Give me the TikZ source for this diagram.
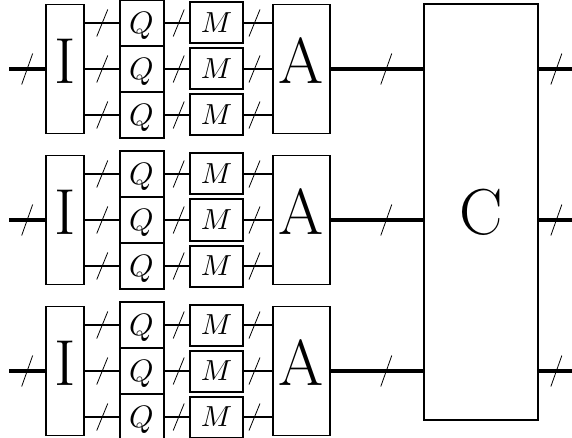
\documentclass[tikz,border=0pt]{standalone}
\usepackage{graphicx}
\usetikzlibrary{decorations.markings}
\begin{document}
\begin{tikzpicture}[x=1pt,y=-1pt,
  bigbox/.style={draw,line width=1.3pt,inner sep=0pt,minimum height=129pt,font=\fontsize{65}{65}\selectfont,text depth=16pt},
  cbox/.style={draw,line width=1.3pt,inner sep=0pt,minimum width=114pt,minimum height=416pt,font=\fontsize{65}{65}\selectfont},
  qbox/.style={draw,line width=2pt,inner sep=0pt,minimum width=44pt,minimum height=46pt,text depth=0pt},
  mbox/.style={draw,line width=2pt,inner sep=0pt,minimum width=53pt,minimum height=41pt,text depth=0pt},
  wire/.style={line width=1.8pt},
  bus/.style={line width=4pt},
  slashat/.style={postaction={decorate,decoration={markings,mark=at position #1 with {\draw[line width=0.8pt] (-5.5pt,-13.5pt)--(5.5pt,13.5pt);}}}},
  bslashat/.style={postaction={decorate,decoration={markings,mark=at position #1 with {\draw[line width=0.8pt] (-5.5pt,-15.5pt)--(5.5pt,15.5pt);}}}}]
\useasboundingbox (0,0) rectangle (572,438);
\clip (0,0) rectangle (572,438);
\node[cbox] (C) at (481,212) {C};
\foreach \r/\cy in {1/69,2/220,3/371} {
  \node[bigbox,minimum width=38pt] (I\r) at (65,\cy) {I};
  \node[bigbox,minimum width=57pt] (A\r) at (301.5,\cy) {A};
  \coordinate (in\r) at (9,\cy);
  \coordinate (out\r) at (578,\cy);
  \foreach \k/\dy in {a/-46,b/0,c/46} {
    \node[qbox] (Q\r\k) at (141.5,\cy+\dy) {\scalebox{3.1}{$Q$}};
    \node[mbox] (M\r\k) at (216.5,\cy+\dy) {\scalebox{2.9}{$M$}};
    \draw[wire,slashat=0.52] (Q\r\k.west -| I\r.east) -- (Q\r\k.west);
    \draw[wire,slashat=0.58] (Q\r\k.east) -- (M\r\k.west);
    \draw[wire,slashat=0.37] (M\r\k.east) -- (M\r\k.east -| A\r.west);
  }
  \draw[bus,bslashat=0.5] (in\r) -- (I\r.west);
  \draw[bus,bslashat=0.6] (A\r.east) -- (A\r.east -| C.west);
  \draw[bus,bslashat=0.45] (C.east |- A\r.east) -- (out\r);
}
\end{tikzpicture}
\end{document}
